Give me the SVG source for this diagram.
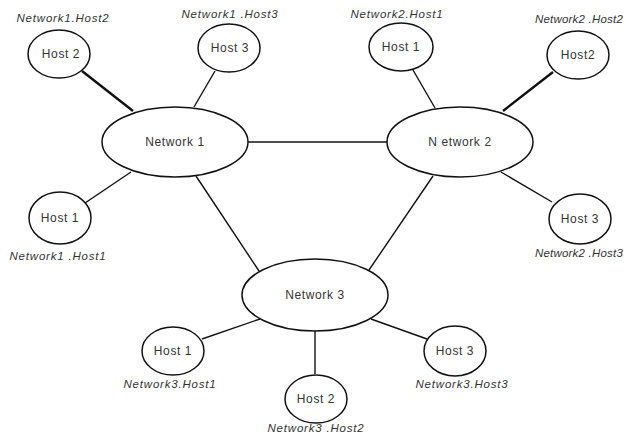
<svg xmlns="http://www.w3.org/2000/svg" width="626" height="439" viewBox="0 0 626 439">
  <style>
    .node ellipse { fill: #ffffff; stroke: #111111; stroke-width: 1.5; }
    .node text { font-family: "Liberation Sans", Arial, sans-serif; font-size: 12px; letter-spacing: 0.6px; fill: #333333; text-anchor: middle; }
    .tag { font-family: "Liberation Sans", Arial, sans-serif; font-size: 11.5px; font-style: italic; letter-spacing: 0.8px; fill: #333333; text-anchor: middle; }
    .tag.edge { text-anchor: end; letter-spacing: 0.2px; }
    .links line { stroke: #111111; stroke-width: 1.4; }
    .links line.heavy { stroke-width: 2.4; }
  </style>
  <rect width="626" height="439" fill="#ffffff"/>

  <!-- connectors -->
  <g id="connectors" class="links">
    <line x1="248" y1="142" x2="387" y2="142"/>
    <line class="heavy" x1="82" y1="71" x2="133" y2="111"/>
    <line x1="215" y1="71" x2="194" y2="107"/>
    <line x1="131" y1="172" x2="85" y2="203"/>
    <line x1="196" y1="176" x2="259" y2="271"/>
    <line x1="413" y1="70" x2="435" y2="108"/>
    <line class="heavy" x1="553" y1="72" x2="503" y2="111"/>
    <line x1="501" y1="172" x2="552" y2="202"/>
    <line x1="433" y1="176" x2="369" y2="270"/>
    <line x1="260" y1="319" x2="202" y2="339"/>
    <line x1="315" y1="330" x2="315" y2="374"/>
    <line x1="371" y1="319" x2="427" y2="339"/>
  </g>

  <!-- networks -->
  <g id="network1" class="node">
    <ellipse cx="175" cy="142" rx="73" ry="35"/>
    <text x="175" y="146">Network 1</text>
  </g>
  <g id="network2" class="node">
    <ellipse cx="460" cy="142" rx="73" ry="35"/>
    <text x="460" y="146">N etwork 2</text>
  </g>
  <g id="network3" class="node">
    <ellipse cx="315" cy="295" rx="73" ry="36"/>
    <text x="315" y="299">Network 3</text>
  </g>

  <!-- hosts of network 1 -->
  <g id="n1-host2" class="node">
    <ellipse cx="59" cy="54" rx="31" ry="24"/>
    <text x="61" y="58">Host 2</text>
  </g>
  <text class="tag" x="63" y="22">Network1.Host2</text>

  <g id="n1-host3" class="node">
    <ellipse cx="229" cy="48" rx="31" ry="24"/>
    <text x="230" y="52">Host 3</text>
  </g>
  <text class="tag" x="230" y="18">Network1 .Host3</text>

  <g id="n1-host1" class="node">
    <ellipse cx="60" cy="218" rx="31" ry="26"/>
    <text x="60" y="222">Host 1</text>
  </g>
  <text class="tag" x="58" y="260">Network1 .Host1</text>

  <!-- hosts of network 2 -->
  <g id="n2-host1" class="node">
    <ellipse cx="401" cy="47" rx="32" ry="24"/>
    <text x="401" y="51">Host 1</text>
  </g>
  <text class="tag" x="397" y="18">Network2.Host1</text>

  <g id="n2-host2" class="node">
    <ellipse cx="578" cy="55" rx="31" ry="24"/>
    <text x="578" y="59">Host2</text>
  </g>
  <text class="tag edge" x="623" y="23">Network2 .Host2</text>

  <g id="n2-host3" class="node">
    <ellipse cx="580" cy="219" rx="31" ry="25"/>
    <text x="580" y="223">Host 3</text>
  </g>
  <text class="tag edge" x="623" y="257">Network2 .Host3</text>

  <!-- hosts of network 3 -->
  <g id="n3-host1" class="node">
    <ellipse cx="173" cy="351" rx="31" ry="24"/>
    <text x="173" y="355">Host 1</text>
  </g>
  <text class="tag" x="170" y="388">Network3.Host1</text>

  <g id="n3-host2" class="node">
    <ellipse cx="316" cy="399" rx="31" ry="24"/>
    <text x="316" y="403">Host 2</text>
  </g>
  <text class="tag" x="316" y="432">Network3 .Host2</text>

  <g id="n3-host3" class="node">
    <ellipse cx="455" cy="351" rx="31" ry="25"/>
    <text x="455" y="355">Host 3</text>
  </g>
  <text class="tag" x="462" y="388">Network3.Host3</text>
</svg>
